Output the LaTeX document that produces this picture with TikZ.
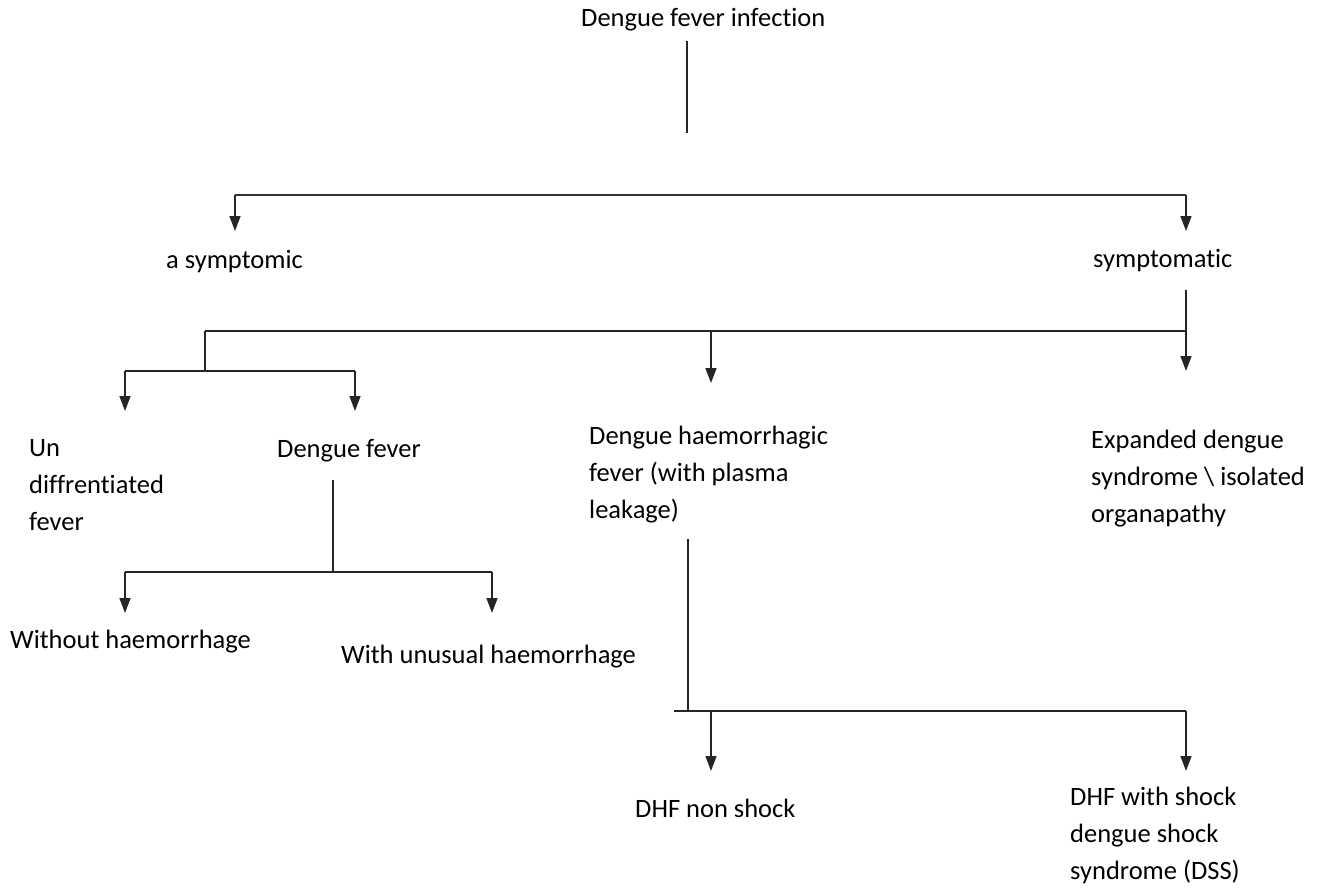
\documentclass[tikz,border=0pt]{standalone}
\usepackage{fontspec}
\setmainfont{Carlito}[Ligatures={NoCommon}]
\usetikzlibrary{arrows.meta}

\begin{document}
\begin{tikzpicture}[
  x=1pt, y=-1pt,
  font=\fontsize{26.5}{37}\selectfont,
  lbl/.style={inner sep=0pt, align=left, anchor=base west},
  link/.style={line width=1.5pt, draw=black!85},
  bar/.style={line width=2.4pt, draw=black!80},
  arr/.style={link, -{Triangle[length=15pt, width=11pt]}}
]
\useasboundingbox (0,0) rectangle (1320,888);

% labels (multi-line ones sit on their last baseline)
\node[lbl] (inf) at (581,27) {Dengue fever infection};
\node[lbl] (asym) at (166,268) {a symptomic};
\node[lbl] (sym) at (1093,267) {symptomatic};
\node[lbl] (undiff) at (29,530) {Un\\diffrentiated\\fever};
\node[lbl] (df) at (277,457) {Dengue fever};
\node[lbl] (dhf) at (589,518) {Dengue haemorrhagic\\fever (with plasma\\leakage)};
\node[lbl] (eds) at (1091,522) {Expanded dengue\\syndrome \textbackslash{} isolated\\organapathy};
\node[lbl] (noh) at (10,648) {Without haemorrhage};
\node[lbl] (unh) at (341,663) {With unusual haemorrhage};
\node[lbl] (nonshock) at (635,817) {DHF non shock};
\node[lbl] (dss) at (1070,879) {DHF with shock\\dengue shock\\syndrome (DSS)};

% junctions
\coordinate (infA) at (687,41);
\coordinate (infB) at (687,133);
\coordinate (barL) at (235,195);
\coordinate (barR) at (1186,195);
\coordinate (asymIn) at (235,231);
\coordinate (symIn) at (1186,231);
\coordinate (symOut) at (1186,290);
\coordinate (symL) at (205,331);
\coordinate (symR) at (1186,331);
\coordinate (dhfIn) at (711,383);
\coordinate (edsIn) at (1186,371);
\coordinate (dfJ) at (205,371);
\coordinate (undiffIn) at (125,411);
\coordinate (dfIn) at (355,411);
\coordinate (dfOut) at (333,480);
\coordinate (dfJ2) at (333,572);
\coordinate (nohIn) at (125,613);
\coordinate (unhIn) at (492,613);
\coordinate (dhfOut) at (688,539);
\coordinate (dhfJ) at (688,711);
\coordinate (nonIn) at (711,771);
\coordinate (dssIn) at (1186,771);

% connectors
\draw[link] (infA) -- (infB);
\draw[bar] (barL) -- (barR);
\draw[arr] (barL) -- (asymIn);
\draw[arr] (barR) -- (symIn);
\draw[arr] (symOut) -- (edsIn);
\draw[link] (symL) -- (symR);
\draw[arr] (symL -| dhfIn) -- (dhfIn);
\draw[link] (symL) -- (dfJ);
\draw[link] (dfJ -| undiffIn) -- (dfJ -| dfIn);
\draw[arr] (dfJ -| undiffIn) -- (undiffIn);
\draw[arr] (dfJ -| dfIn) -- (dfIn);
\draw[link] (dfOut) -- (dfJ2);
\draw[link] (dfJ2 -| nohIn) -- (dfJ2 -| unhIn);
\draw[arr] (dfJ2 -| nohIn) -- (nohIn);
\draw[arr] (dfJ2 -| unhIn) -- (unhIn);
\draw[link] (dhfOut) -- (dhfJ);
\draw[link] ([xshift=-14pt]dhfJ) -- (dhfJ -| dssIn);
\draw[arr] (dhfJ -| nonIn) -- (nonIn);
\draw[arr] (dhfJ -| dssIn) -- (dssIn);
\end{tikzpicture}
\end{document}
